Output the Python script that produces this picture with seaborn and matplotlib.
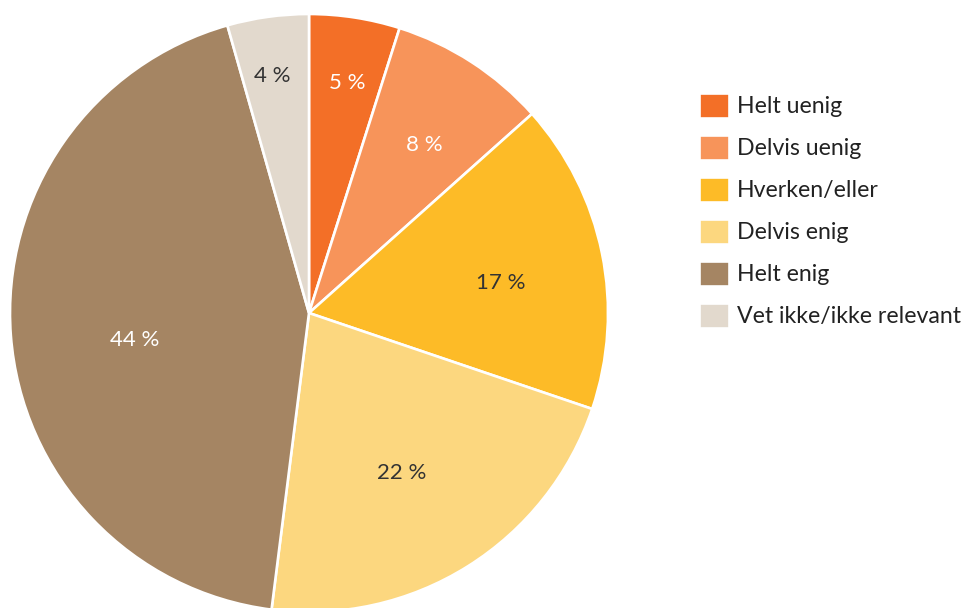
import numpy as np
import matplotlib
matplotlib.use("Agg")
import matplotlib.pyplot as plt
import seaborn as sns

# Data
categories = ["Helt uenig", "Delvis uenig", "Hverken/eller", "Delvis enig",
              "Helt enig", "Vet ikke/ikke relevant"]
values = [4.9, 8.5, 16.8, 21.8, 43.6, 4.4]
labels = ["5 %", "8 %", "17 %", "22 %", "44 %", "4 %"]

colors = ["#F36F27", "#F7945A", "#FDBB27", "#FCD77F", "#A58563", "#E2D9CD"]
text_colors = ["white", "white", "#333333", "#333333", "white", "#333333"]
# label placement: distance from centre (fraction of radius) and angle nudge (deg)
label_radius = [0.79, 0.69, 0.65, 0.61, 0.59, 0.81]
label_nudge = [-0.5, -1.2, -1.7, -1.5, 3.6, 0.7]

sns.set_theme(style="white")
plt.rcParams['font.family'] = ['Lato', 'DejaVu Sans']

fig = plt.figure(figsize=(9.66, 6.08), dpi=100)
ax = fig.add_axes([10 / 966, -4 / 608, 598 / 966, 598 / 608])

wedges, _ = ax.pie(values, colors=colors, startangle=90, counterclock=False,
                   wedgeprops=dict(edgecolor="white", linewidth=1.9))

for w, lab, tc, r, nd in zip(wedges, labels, text_colors, label_radius, label_nudge):
    mid = np.deg2rad((w.theta1 + w.theta2) / 2 + nd)
    ax.annotate(lab, (r * np.cos(mid), r * np.sin(mid)), xytext=(0, -2),
                textcoords="offset points", ha="center", va="center",
                fontsize=16, color=tc)

ax.set_xlim(-1, 1)
ax.set_ylim(-1, 1)
ax.set_aspect("equal")
ax.axis("off")

fig.legend(wedges, categories, loc="upper left",
           bbox_to_anchor=(692 / 966, 1 - 86 / 608),
           frameon=False, fontsize=16.7, handlelength=1.3, handleheight=1.3,
           handletextpad=0.35, labelspacing=0.72, borderaxespad=0, borderpad=0.3,
           labelcolor="#222222")

fig.savefig("out.png", dpi=100)
